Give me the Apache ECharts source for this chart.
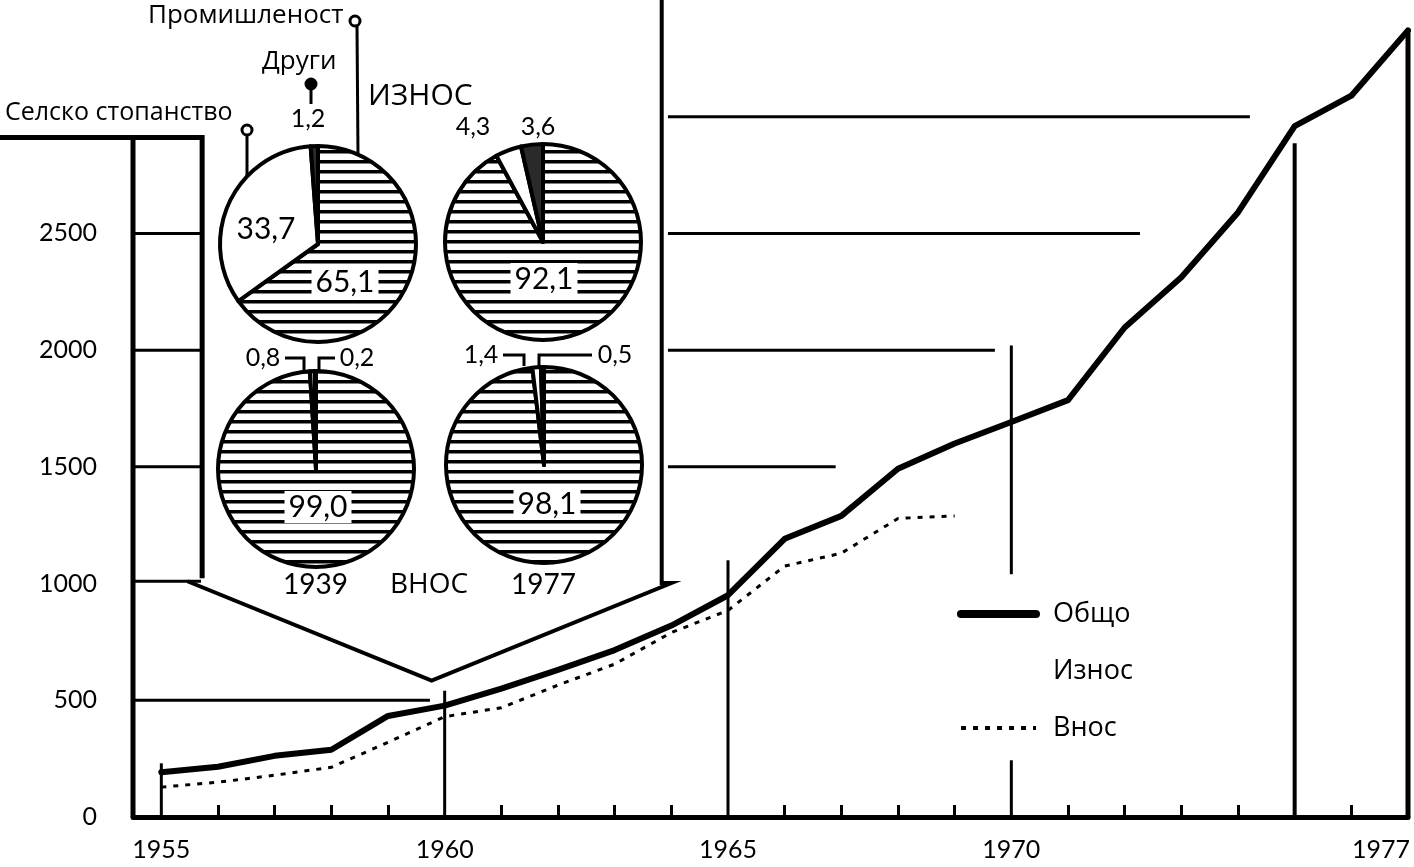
<!DOCTYPE html>
<html>
<head>
<meta charset="utf-8">
<script src="https://cdn.jsdelivr.net/npm/echarts@6/dist/echarts.min.js"></script>
<style>
html,body{margin:0;padding:0;background:#fff;}
#c{width:1414px;height:867px;}
</style>
</head>
<body>
<div id="c"></div>
<script>
// ---------------- data ----------------
const years = [1955,1956,1957,1958,1959,1960,1961,1962,1963,1964,1965,1966,1967,1968,1969,1970,1971,1972,1973,1974,1975,1976,1977];
const totalValues = [192,215,262,288,433,477,550,630,715,820,950,1192,1290,1492,1600,1692,1786,2097,2312,2590,2960,3090,3370];
const importYears = [1955,1956,1957,1958,1959,1960,1961,1962,1963,1964,1965,1966,1967,1968,1969];
const importValues = [128,149,179,213,320,430,468,565,655,790,885,1075,1130,1279,1290];
const exportValues = []; // line not visible in the original print
const seriesNames = ['Общо', 'Износ', 'Внос'];
const yTickLabels = [0, 500, 1000, 1500, 2000, 2500];
const xTickLabels = [1955, 1960, 1965, 1970, 1977];
const minorTickYears = [1956,1957,1958,1959,1961,1962,1963,1964,1966,1967,1968,1969,1971,1972,1973,1974,1975,1976];

const pieSectors = ['Промишленост', 'Селско стопанство', 'Други'];
const exports1939 = [65.1, 33.7, 1.2];
const exports1977 = [92.1, 4.3, 3.6];
const imports1939 = [99.0, 0.8, 0.2];
const imports1977 = [98.1, 1.4, 0.5];

// ---------------- styling / layout ----------------
const NUM_FONT = 'Lato, "Open Sans", sans-serif';
const TXT_FONT = '"Open Sans", "Noto Sans", sans-serif';
const PIE_R = 98;

const hatch = (function () {
  const c = document.createElement('canvas');
  c.width = 16; c.height = 10;
  const g = c.getContext('2d');
  g.fillStyle = '#fff'; g.fillRect(0, 0, 16, 10);
  g.fillStyle = '#000'; g.fillRect(0, 0, 16, 3.5);
  return c;
})();
const sectorFills = [{ image: hatch, repeat: 'repeat' }, '#ffffff', '#2a2a2a'];

// label spots relative to pie centre: [dx, dy, optional connector points]
const pieLayouts = [
  { values: exports1939, center: [318, 244], spots: [[27, 38], [-52, -15], [-10, -125]] },
  { values: exports1977, center: [543, 242], spots: [[1, 37], [-70, -115], [-5, -115]] },
  { values: imports1939, center: [316, 469], spots: [[2, 38], [-53, -111, [[-31, -111], [-12, -111], [-12, -99]]], [41, -111, [[19, -111], [3, -111], [3, -99]]]] },
  { values: imports1977, center: [544, 465], spots: [[3, 39], [-63, -110, [[-41, -110], [-20, -110], [-20, -99]]], [71, -110, [[48, -110], [-5, -110], [-5, -99]]]] }
];

function fmtComma(v) { return v.toFixed(1).replace('.', ','); }

function pieSeries(cfg) {
  const c = cfg.center, spots = cfg.spots;
  return {
    type: 'pie', center: c, radius: PIE_R, startAngle: 90, clockwise: true,
    minAngle: 0, avoidLabelOverlap: false, silent: true, z: 5,
    itemStyle: { borderColor: '#000', borderWidth: 4 },
    label: { show: true, formatter: p => fmtComma(p.value), color: '#000', fontFamily: NUM_FONT, fontSize: 30 },
    labelLine: { show: false, lineStyle: { color: '#000', width: 3 } },
    labelLayout: function (p) {
      const s = spots[p.dataIndex];
      const out = { x: c[0] + s[0], y: c[1] + s[1], align: 'center', verticalAlign: 'middle', hideOverlap: false };
      if (s[2]) out.labelLinePoints = s[2].map(q => [c[0] + q[0], c[1] + q[1]]);
      return out;
    },
    data: cfg.values.map((v, i) => {
      const big = v >= 10;
      return {
        name: pieSectors[i], value: v,
        itemStyle: { color: sectorFills[i] },
        label: big ? { position: 'inside', fontSize: 30, backgroundColor: '#fff', padding: [1, 4] }
                   : { position: 'outside', fontSize: 25 },
        labelLine: { show: !big && !!spots[i][2], length: 5, length2: 5, lineStyle: { color: '#000', width: 3 } }
      };
    })
  };
}

const chart = echarts.init(document.getElementById('c'), null, { renderer: 'canvas', width: 1414, height: 867 });

const option = {
  animation: false,
  backgroundColor: '#fff',
  grid: { left: 133, right: 6, top: -4, bottom: 50, containLabel: false },
  xAxis: {
    type: 'value', min: 1954.5, max: 1977,
    axisLine: { show: true, lineStyle: { color: '#000', width: 5 } },
    axisTick: { show: true, inside: true, length: 12, lineStyle: { color: '#000', width: 3 }, customValues: minorTickYears },
    axisLabel: {
      customValues: xTickLabels, color: '#000', fontSize: 25, fontFamily: NUM_FONT, margin: 20,
      formatter: v => (v === 1977 ? '{r|1977}' : String(v)),
      rich: { r: { width: 112, align: 'left', fontSize: 25, fontFamily: NUM_FONT, color: '#000' } }
    },
    splitLine: { show: false }
  },
  yAxis: {
    type: 'value', min: 0, max: 3500, interval: 500,
    axisLine: { show: false }, axisTick: { show: false }, splitLine: { show: false },
    axisLabel: {
      color: '#000', fontSize: 25, fontFamily: NUM_FONT, margin: 36,
      formatter: v => (yTickLabels.indexOf(v) >= 0 ? String(v) : '')
    }
  },
  legend: {
    data: [
      { name: seriesNames[0], itemStyle: { opacity: 0 }, lineStyle: { width: 8, cap: 'round' } },
      { name: seriesNames[1], itemStyle: { opacity: 0 }, lineStyle: { opacity: 0 } },
      { name: seriesNames[2], itemStyle: { opacity: 0 }, lineStyle: { width: 4 } }
    ],
    orient: 'vertical', left: 952, top: 594, itemWidth: 75, itemHeight: 30, itemGap: 27,
    selectedMode: false,
    textStyle: { fontSize: 27, color: '#000', fontFamily: TXT_FONT, padding: [0, 0, 0, 12], lineHeight: 30 }
  },
  series: [
    {
      name: seriesNames[0], type: 'line', z: 4, symbol: 'none', color: '#000',
      lineStyle: { color: '#000', width: 6, join: 'round', cap: 'round' },
      data: years.map((y, i) => [y, totalValues[i]])
    },
    {
      name: seriesNames[1], type: 'line', symbol: 'none', color: '#000',
      lineStyle: { color: '#000', width: 3, opacity: 0 },
      data: exportValues
    },
    {
      name: seriesNames[2], type: 'line', z: 3, symbol: 'none', color: '#000',
      lineStyle: { color: '#000', width: 3, type: [5, 7] },
      data: importYears.map((y, i) => [y, importValues[i]])
    }
  ].concat(pieLayouts.map(pieSeries))
};
chart.setOption(option);

// reference frame, grid stubs and year lines (data coordinates)
const frameLines = [
  { w: 5, pts: [[1952.1, 2911], [1955.72, 2911], [1955.72, 1023]] },
  { w: 5, pts: [[1954.5, 0], [1954.5, 2911]] },
  { w: 3, pts: [[1954.5, 1010], [1955.7, 1010]] },
  { w: 4, pts: [[1955.46, 1010], [1959.77, 584], [1964.0, 1002], [1963.83, 1002], [1963.83, 3520]] },
  { w: 3, pts: [[1954.5, 500], [1959.74, 500]] },
  { w: 3, pts: [[1954.5, 1500], [1955.7, 1500]] },
  { w: 3, pts: [[1954.5, 2000], [1955.7, 2000]] },
  { w: 3, pts: [[1954.5, 2500], [1955.7, 2500]] },
  { w: 3, pts: [[1963.94, 1500], [1966.9, 1500]] },
  { w: 3, pts: [[1963.94, 2000], [1969.71, 2000]] },
  { w: 3, pts: [[1963.94, 2500], [1972.27, 2500]] },
  { w: 3, pts: [[1963.94, 3000], [1974.21, 3000]] },
  { w: 3, pts: [[1955, 0], [1955, 230]] },
  { w: 3, pts: [[1960, 0], [1960, 541]] },
  { w: 3, pts: [[1965, 0], [1965, 1100]] },
  { w: 3, pts: [[1970, 0], [1970, 243]] },
  { w: 3, pts: [[1970, 1040], [1970, 2020]] },
  { w: 4, pts: [[1975, 0], [1975, 2886]] },
  { w: 5, pts: [[1977, 0], [1977, 3370]] }
];

const graphics = frameLines.map(f => ({
  type: 'polyline', silent: true, z: 1,
  shape: { points: f.pts.map(p => chart.convertToPixel({ gridIndex: 0 }, p)) },
  style: { stroke: '#000', lineWidth: f.w, fill: null, lineJoin: 'miter' }
}));

// category call-outs for the export pies
const callouts = [
  { text: pieSectors[0], tx: 148, ty: 16, fs: 26, cx: 355, cy: 21, ring: true, line: [[357, 26], [358, 156]] },
  { text: pieSectors[2], tx: 262, ty: 62, fs: 26, cx: 311, cy: 84, ring: false, line: [[311, 89], [311, 104]] },
  { text: pieSectors[1], tx: 5, ty: 113, fs: 25, cx: 247, cy: 130, ring: true, line: [[247, 135], [247, 176]] }
];
callouts.forEach(c => {
  graphics.push({ type: 'text', silent: true, z: 6, style: { text: c.text, x: c.tx, y: c.ty, fill: '#000', font: c.fs + 'px ' + TXT_FONT, textVerticalAlign: 'middle', textAlign: 'left' } });
  graphics.push({ type: 'polyline', silent: true, z: 6, shape: { points: c.line }, style: { stroke: '#000', lineWidth: 3, fill: null } });
  graphics.push({ type: 'circle', silent: true, z: 7, shape: { cx: c.cx, cy: c.cy, r: 5 }, style: { fill: c.ring ? '#fff' : '#000', stroke: '#000', lineWidth: 3 } });
});

const titles = [
  { text: 'ИЗНОС', x: 368, y: 96, fs: 30, font: TXT_FONT },
  { text: '1939', x: 283, y: 585, fs: 28, font: NUM_FONT },
  { text: 'ВНОС', x: 390, y: 585, fs: 28, font: TXT_FONT },
  { text: '1977', x: 511, y: 585, fs: 28, font: NUM_FONT }
];
titles.forEach(t => {
  graphics.push({ type: 'text', silent: true, z: 6, style: { text: t.text, x: t.x, y: t.y, fill: '#000', font: t.fs + 'px ' + t.font, textVerticalAlign: 'middle', textAlign: 'left' } });
});

chart.setOption({ graphic: graphics });
</script>
</body>
</html>
